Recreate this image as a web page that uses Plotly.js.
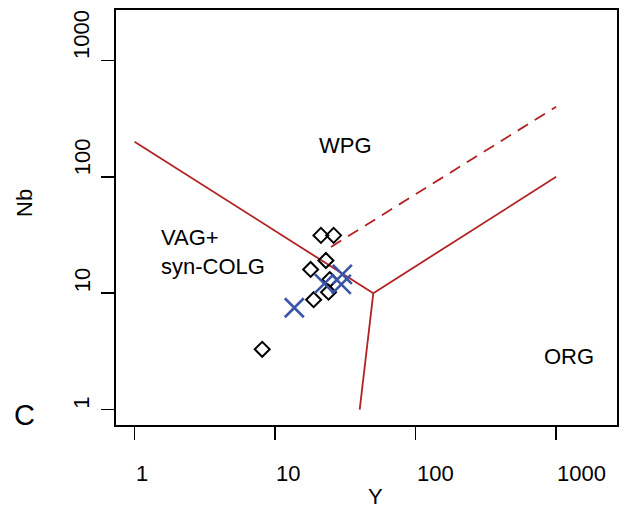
<!DOCTYPE html>
<html>
<head>
<meta charset="utf-8">
<script src="https://cdn.plot.ly/plotly-3.0.1.min.js"></script>
<style>html,body{margin:0;padding:0;background:#fff;}#chart{width:622px;height:511px;}</style>
</head>
<body>
<div id="chart"></div>
<script>
// Sample data (Y vs Nb, ppm)
const diamondY  = [8.1, 21.2, 26.1, 23.0, 17.9, 24.5, 24.0, 18.8];
const diamondNb = [3.3, 31.4, 31.4, 19.1, 16.0, 13.1, 10.2, 8.8];
const crossY  = [13.7, 22.4, 30.1, 29.6];
const crossNb = [7.5, 12.1, 14.5, 11.9];

// Pearce et al. (1984) field boundaries
const vagWpgY  = [1, 50];    const vagWpgNb  = [200, 10];
const wpgOrgY  = [50, 1000]; const wpgOrgNb  = [10, 100];
const vagOrgY  = [50, 40];   const vagOrgNb  = [10, 1];
const dashedY  = [25, 1000]; const dashedNb  = [25, 400];

// Axis ticks
const tickVals   = [1, 10, 100, 1000];
const tickLabels = ['1', '10', '100', '1000'];

// Field labels
const fieldNames = ['WPG', 'VAG+<br>syn-COLG', 'ORG'];
const fieldY     = [31.6, 1.5, 1225];
const fieldNb    = [184, 22.4, 2.85];
const fieldAnchor = ['center', 'left', 'center'];

const red = '#b22222';
const blue = '#3a55a8';
const font = 'Liberation Sans, Arial, sans-serif';
const fs = 22;
const lg = v => Math.log10(v);

function boundary(x, y, dash) {
  return {x: x, y: y, type: 'scatter', mode: 'lines', hoverinfo: 'skip',
          line: {color: red, width: 1.8, dash: dash || 'solid'}, showlegend: false};
}

const traces = [
  boundary(vagWpgY, vagWpgNb),
  boundary(wpgOrgY, wpgOrgNb),
  boundary(vagOrgY, vagOrgNb),
  boundary(dashedY, dashedNb, '12px,8px'),
  {x: diamondY, y: diamondNb, type: 'scatter', mode: 'markers', showlegend: false,
   marker: {symbol: 'diamond-open', size: 11.5, color: '#000', line: {color: '#000', width: 2}}},
  {x: crossY, y: crossNb, type: 'scatter', mode: 'markers', showlegend: false,
   marker: {symbol: 'x-thin-open', size: 19, color: blue, line: {color: blue, width: 2.6}}}
];

const annotations = [];
tickVals.forEach((v, i) => {
  annotations.push({x: lg(v), xref: 'x', y: 0, yref: 'paper', text: tickLabels[i],
    xanchor: 'left', yanchor: 'middle', yshift: -48, showarrow: false, borderpad: 0,
    font: {family: font, size: fs, color: '#000'}});
  annotations.push({x: 0, xref: 'paper', y: lg(v), yref: 'y', text: tickLabels[i],
    xanchor: 'center', yanchor: 'bottom', xshift: -34, textangle: -90, showarrow: false, borderpad: 0,
    font: {family: font, size: fs, color: '#000'}});
});
fieldNames.forEach((t, i) => {
  annotations.push({x: lg(fieldY[i]), xref: 'x', y: lg(fieldNb[i]), yref: 'y', text: t,
    xanchor: fieldAnchor[i], yanchor: 'middle', align: 'left', showarrow: false,
    font: {family: font, size: fs, color: '#000'}});
});
annotations.push({x: 0.518, xref: 'paper', y: 0, yref: 'paper', text: 'Y', xanchor: 'center', yanchor: 'middle',
  yshift: -71, showarrow: false, font: {family: font, size: fs, color: '#000'}});
annotations.push({x: 0, xref: 'paper', y: 0.535, yref: 'paper', text: 'Nb', xanchor: 'center', yanchor: 'middle',
  xshift: -91, textangle: -90, showarrow: false, font: {family: font, size: fs, color: '#000'}});
annotations.push({x: 0, xref: 'paper', y: 0, yref: 'paper', text: 'C', xanchor: 'center', yanchor: 'middle',
  xshift: -92, yshift: 10, showarrow: false, font: {family: font, size: 29, color: '#000'}});

const axisCommon = {
  type: 'log', range: [-0.132, 3.433], showgrid: false, zeroline: false,
  showline: true, mirror: true, linecolor: '#000', linewidth: 1.6,
  ticks: 'outside', ticklen: 13, tickwidth: 1.5, tickcolor: '#000',
  tickmode: 'array', tickvals: tickVals, showticklabels: false
};

const layout = {
  width: 622, height: 511,
  margin: {l: 116, r: 5, t: 10, b: 86},
  paper_bgcolor: '#fff', plot_bgcolor: '#fff',
  xaxis: Object.assign({}, axisCommon),
  yaxis: Object.assign({}, axisCommon),
  annotations: annotations,
  showlegend: false,
  font: {family: font, size: fs, color: '#000'}
};

Plotly.newPlot('chart', traces, layout, {staticPlot: true, displayModeBar: false});
</script>
</body>
</html>
